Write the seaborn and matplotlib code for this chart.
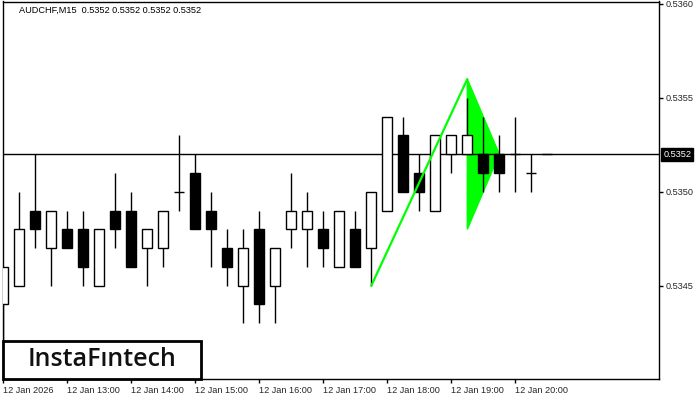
import matplotlib
matplotlib.use("Agg")
import matplotlib.pyplot as plt
from matplotlib.patches import Rectangle, Polygon
import matplotlib.transforms as mtransforms
import seaborn as sns
import numpy as np

# AUDCHF M15 candles, 12 Jan 2026 from 12:00
opens = [0.5344, 0.5345, 0.5349, 0.5347, 0.5348, 0.5348, 0.5345, 0.5349, 0.5349, 0.5347,
         0.5347, 0.5350, 0.5351, 0.5349, 0.5347, 0.5345, 0.5348, 0.5345, 0.5348, 0.5348,
         0.5348, 0.5346, 0.5348, 0.5347, 0.5349, 0.5353, 0.5351, 0.5349, 0.5352, 0.5352,
         0.5352, 0.5352, 0.5352, 0.5351, 0.5352]
highs = [0.5346, 0.5350, 0.5352, 0.5349, 0.5349, 0.5349, 0.5348, 0.5351, 0.5350, 0.5348,
         0.5349, 0.5353, 0.5352, 0.5350, 0.5348, 0.5348, 0.5349, 0.5347, 0.5351, 0.5350,
         0.5349, 0.5349, 0.5349, 0.5350, 0.5354, 0.5354, 0.5352, 0.5353, 0.5353, 0.5355,
         0.5354, 0.5353, 0.5354, 0.5352, 0.5352]
lows = [0.5342, 0.5345, 0.5347, 0.5345, 0.5347, 0.5345, 0.5345, 0.5347, 0.5346, 0.5345,
        0.5346, 0.5349, 0.5348, 0.5346, 0.5345, 0.5343, 0.5343, 0.5343, 0.5347, 0.5346,
        0.5346, 0.5346, 0.5346, 0.5345, 0.5349, 0.5350, 0.5349, 0.5349, 0.5351, 0.5352,
        0.5350, 0.5350, 0.5350, 0.5350, 0.5352]
closes = [0.5346, 0.5348, 0.5348, 0.5349, 0.5347, 0.5346, 0.5348, 0.5348, 0.5346, 0.5348,
          0.5349, 0.5350, 0.5348, 0.5348, 0.5346, 0.5347, 0.5344, 0.5347, 0.5349, 0.5349,
          0.5347, 0.5349, 0.5346, 0.5350, 0.5354, 0.5350, 0.5350, 0.5353, 0.5353, 0.5353,
          0.5351, 0.5351, 0.5352, 0.5351, 0.5352]

tick_pos = [0, 4, 8, 12, 16, 20, 24, 28, 32]
tick_labels = ["12 Jan 2026", "12 Jan 13:00", "12 Jan 14:00", "12 Jan 15:00", "12 Jan 16:00",
               "12 Jan 17:00", "12 Jan 18:00", "12 Jan 19:00", "12 Jan 20:00"]
price_ticks = [0.5345, 0.5350, 0.5355, 0.5360]
last_price = 0.5352

# bullish pennant drawing
pole_x = [23, 29]
pole_y = [0.5345, 0.5356]
flag_x = [29, 29, 31]
flag_y = [0.5356, 0.5348, 0.5352]

sns.set_style("white")
plt.rcParams['font.family'] = ['Liberation Sans', 'DejaVu Sans']

fig = plt.figure(figsize=(7, 4), dpi=100)
ax = fig.add_axes([2.7 / 700, 1 - 379 / 400, 656.6 / 700, 377.5 / 400])

x = np.arange(len(opens))
o = np.array(opens)
c = np.array(closes)
body_w = 0.62

# wicks
ax.vlines(x, lows, highs, color="black", lw=1, zorder=2)

# bodies
up = c > o
down = c < o
ax.bar(x[up], c[up] - o[up], bottom=o[up], width=body_w, facecolor="white",
       edgecolor="black", lw=1, zorder=3)
ax.bar(x[down], o[down] - c[down], bottom=c[down], width=body_w, facecolor="black",
       edgecolor="black", lw=1, zorder=3)
doji = c == o
ax.hlines(c[doji], x[doji] - body_w / 2, x[doji] + body_w / 2, color="black", lw=1, zorder=3)

# bid line
ax.axhline(last_price, color="black", lw=1, zorder=1.5)

# pennant
ax.add_patch(Polygon(list(zip(flag_x, flag_y)), closed=True, facecolor="#00ff00",
                     edgecolor="#00ff00", lw=1, zorder=1))
sns.lineplot(x=pole_x, y=pole_y, color="#00ff00", lw=1.6, ax=ax, zorder=4)

ax.set_xlim(-0.04, 41.0)
ax.set_ylim(0.534003, 0.536013)

ax.set_xticks(tick_pos)
ax.set_xticklabels(tick_labels, ha="left", fontsize=6.6)
ax.yaxis.tick_right()
ax.set_yticks(price_ticks)
ax.set_yticklabels([f"{p:.4f}" for p in price_ticks], fontsize=6.6)
ax.tick_params(axis="both", direction="out", length=3, width=1, color="black", pad=1.5)
ax.tick_params(axis="x", bottom=True, pad=2)
ax.tick_params(axis="y", right=True)
for s in ax.spines.values():
    s.set_color("black")
    s.set_linewidth(1)
ax.set_xlabel("")
ax.set_ylabel("")

# current price label
trans = mtransforms.blended_transform_factory(ax.transAxes, ax.transData)
ax.text(1.006, last_price, f"{last_price:.4f}", transform=trans, fontsize=6.6, color="white",
        va="center", ha="left",
        bbox=dict(boxstyle="square,pad=0.2", facecolor="black", edgecolor="black"))

# header
fig.text(19 / 700, 1 - 10.7 / 400, "AUDCHF,M15  0.5352 0.5352 0.5352 0.5352",
         fontsize=6.6, va="center", ha="left", color="black")

# logo
fig.add_artist(Rectangle((3 / 700, 1 - 378.5 / 400), 198 / 700, 38 / 400,
                         transform=fig.transFigure, facecolor="white", edgecolor="black",
                         lw=2, zorder=10))
fig.text(102 / 700, 1 - 359.5 / 400, "InstaF\u0131ntech", fontsize=18, fontfamily="Open Sans",
         fontweight="semibold", va="center", ha="center", color="#111111", zorder=11)

fig.savefig("out.png", dpi=100)
